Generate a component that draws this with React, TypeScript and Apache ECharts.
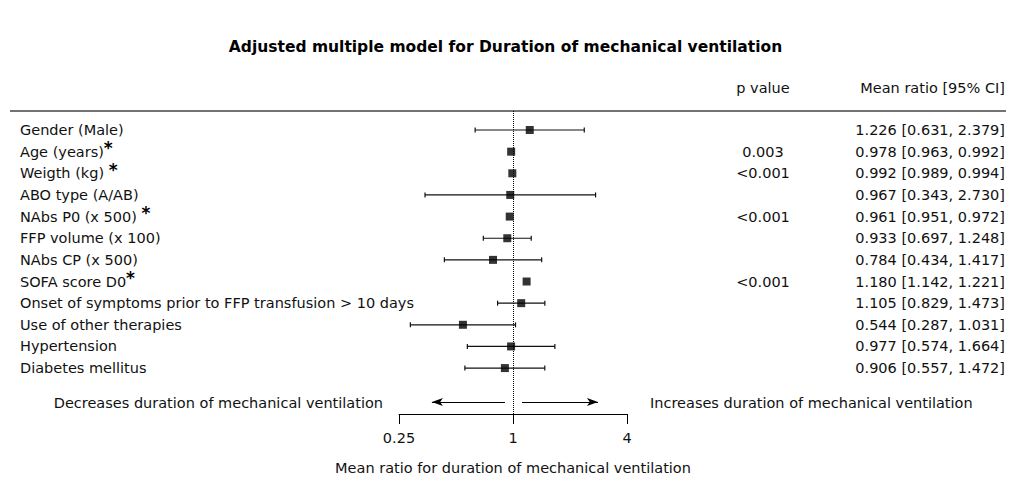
import React, { useEffect, useRef } from "react";
import * as echarts from "echarts";

const rowLabels = [
  "Gender (Male)",
  "Age (years)",
  "Weigth (kg) ",
  "ABO type (A/AB)",
  "NAbs P0 (x 500) ",
  "FFP volume (x 100)",
  "NAbs CP (x 500)",
  "SOFA score D0",
  "Onset of symptoms prior to FFP transfusion > 10 days",
  "Use of other therapies",
  "Hypertension",
  "Diabetes mellitus",
];
const starred = [false, true, true, false, true, false, false, true, false, false, false, false];
const estimate = [1.226, 0.978, 0.992, 0.967, 0.961, 0.933, 0.784, 1.18, 1.105, 0.544, 0.977, 0.906];
const lower = [0.631, 0.963, 0.989, 0.343, 0.951, 0.697, 0.434, 1.142, 0.829, 0.287, 0.574, 0.557];
const upper = [2.379, 0.992, 0.994, 2.73, 0.972, 1.248, 1.417, 1.221, 1.473, 1.031, 1.664, 1.472];
const pValues = ["", "0.003", "<0.001", "", "<0.001", "", "", "<0.001", "", "", "", ""];
const xTicks = [0.25, 1, 4];

const TITLE = "Adjusted multiple model for Duration of mechanical ventilation";
const X_NAME = "Mean ratio for duration of mechanical ventilation";
const LEFT_ARROW_TEXT = "Decreases duration of mechanical ventilation";
const RIGHT_ARROW_TEXT = "Increases duration of mechanical ventilation";
// arrow annotation positions in data units (x ratio, y fraction of lower grid)
const leftArrow = [[0.907, 0.04], [0.373, 0.04]];
const rightArrow = [[1.116, 0.04], [2.81, 0.04]];

const FONT = "'DejaVu Sans', Verdana, sans-serif";
const FS = 14.5;
const TXT = "#111";

export default function App() {
  const ref = useRef<HTMLDivElement>(null);
  useEffect(() => {
    document.body.style.margin = "0";
    const chart = echarts.init(ref.current!, null, { renderer: "svg" });
    const gridLeft = 399;
    const gridRight = 1011 - 627;
    const idx = rowLabels.map((_, i) => i);
    const ciText = estimate.map(
      (e, i) => `${e.toFixed(3)} [${lower[i].toFixed(3)}, ${upper[i].toFixed(3)}]`
    );
    const boxSize = 8;

    const option: any = {
      animation: false,
      title: {
        text: TITLE,
        left: "center",
        top: 34,
        textStyle: { fontFamily: FONT, fontSize: 15.5, fontWeight: "bold", color: "#000" },
      },
      grid: [
        { left: gridLeft, right: gridRight, top: 119.2, height: 259.7 },
        { left: gridLeft, right: gridRight, top: 111, bottom: 482 - 414 },
      ],
      xAxis: [
        { type: "log", logBase: 2, min: 0.25, max: 4, gridIndex: 0, show: false },
        {
          type: "log",
          logBase: 2,
          min: 0.25,
          max: 4,
          interval: 2,
          gridIndex: 1,
          position: "bottom",
          axisLine: { show: true, lineStyle: { color: "#000", width: 1 } },
          axisTick: { show: true, inside: false, length: 10, lineStyle: { color: "#000" } },
          splitLine: { show: false },
          axisLabel: {
            margin: 16,
            fontSize: FS,
            fontFamily: FONT,
            color: TXT,
            formatter: (v: number) => (xTicks.some((t) => Math.abs(t - v) < 1e-6) ? String(v) : ""),
          },
          name: X_NAME,
          nameLocation: "middle",
          nameGap: 46,
          nameTextStyle: { fontSize: FS, fontFamily: FONT, color: TXT },
        },
      ],
      yAxis: [
        {
          type: "category",
          gridIndex: 0,
          inverse: true,
          data: rowLabels,
          position: "left",
          axisLine: { show: false },
          axisTick: { show: false },
          axisLabel: {
            interval: 0,
            align: "left",
            margin: 399 - 20,
            fontSize: FS,
            fontFamily: FONT,
            color: TXT,
            formatter: (v: string, i: number) => (starred[i] ? `${v}{s|*}` : v),
            rich: {
              s: {
                fontSize: 17,
                fontWeight: "bold",
                fontFamily: FONT,
                color: "#000",
                verticalAlign: "top",
                padding: [0, 0, 7, 0],
              },
            },
          },
        },
        {
          type: "category",
          gridIndex: 0,
          inverse: true,
          data: rowLabels,
          position: "right",
          axisLine: { show: false },
          axisTick: { show: false },
          axisLabel: {
            interval: 0,
            align: "right",
            margin: 1005 - 627,
            fontSize: FS,
            fontFamily: FONT,
            color: TXT,
            formatter: (_v: string, i: number) => ciText[i],
          },
        },
        {
          type: "category",
          gridIndex: 0,
          inverse: true,
          data: rowLabels,
          position: "right",
          axisLine: { show: false },
          axisTick: { show: false },
          axisLabel: {
            interval: 0,
            align: "center",
            margin: 763 - 627,
            fontSize: FS,
            fontFamily: FONT,
            color: TXT,
            formatter: (_v: string, i: number) => pValues[i],
          },
        },
        { type: "value", gridIndex: 1, min: 0, max: 1, show: false },
      ],
      graphic: [
        {
          type: "line",
          shape: { x1: 10, y1: 111, x2: 1006, y2: 111 },
          style: { stroke: "#444", lineWidth: 1.5 },
          silent: true,
        },
        {
          type: "text",
          x: 763,
          y: 88,
          style: { text: "p value", fontSize: FS, fontFamily: FONT, fill: TXT, textAlign: "center", textVerticalAlign: "middle" },
        },
        {
          type: "text",
          x: 1005,
          y: 88,
          style: { text: "Mean ratio [95% CI]", fontSize: FS, fontFamily: FONT, fill: TXT, textAlign: "right", textVerticalAlign: "middle" },
        },
        {
          type: "text",
          x: 383,
          y: 403,
          style: { text: LEFT_ARROW_TEXT, fontSize: FS, fontFamily: FONT, fill: TXT, textAlign: "right", textVerticalAlign: "middle" },
        },
        {
          type: "text",
          x: 650,
          y: 403,
          style: { text: RIGHT_ARROW_TEXT, fontSize: FS, fontFamily: FONT, fill: TXT, textAlign: "left", textVerticalAlign: "middle" },
        },
      ],
      series: [
        {
          type: "custom",
          xAxisIndex: 0,
          yAxisIndex: 0,
          data: idx.map((i) => [lower[i], upper[i], i]),
          encode: { x: [0, 1], y: 2 },
          renderItem: (params: any, api: any) => {
            const p1 = api.coord([api.value(0), api.value(2)]);
            const p2 = api.coord([api.value(1), api.value(2)]);
            if (p2[0] - p1[0] <= boxSize) return { type: "group", children: [] };
            const y = p1[1];
            const h = 2.5;
            const st = { stroke: "#111", lineWidth: 1.2 };
            return {
              type: "group",
              children: [
                { type: "line", shape: { x1: p1[0], y1: y, x2: p2[0], y2: y }, style: st },
                { type: "line", shape: { x1: p1[0], y1: y - h, x2: p1[0], y2: y + h }, style: st },
                { type: "line", shape: { x1: p2[0], y1: y - h, x2: p2[0], y2: y + h }, style: st },
              ],
            };
          },
          z: 2,
        },
        {
          type: "scatter",
          xAxisIndex: 0,
          yAxisIndex: 0,
          symbol: "rect",
          symbolSize: boxSize,
          itemStyle: { color: "#000" },
          data: idx.map((i) => [estimate[i], i]),
          z: 3,
        },
        {
          type: "line",
          xAxisIndex: 1,
          yAxisIndex: 3,
          data: [],
          markLine: {
            silent: true,
            symbol: ["none", "none"],
            label: { show: false },
            lineStyle: { type: "dotted", color: "#000", width: 1 },
            data: [{ xAxis: 1 }],
          },
        },
        {
          type: "line",
          xAxisIndex: 1,
          yAxisIndex: 3,
          data: [],
          markLine: {
            silent: true,
            symbol: ["none", "arrow"],
            symbolSize: [6, 11],
            label: { show: false },
            lineStyle: { type: "solid", color: "#000", width: 1 },
            itemStyle: { color: "#000" },
            data: [
              [{ coord: leftArrow[0] }, { coord: leftArrow[1] }],
              [{ coord: rightArrow[0] }, { coord: rightArrow[1] }],
            ],
          },
        },
      ],
    };
    chart.setOption(option);
    return () => chart.dispose();
  }, []);
  return <div ref={ref} style={{ width: 1011, height: 482 }} />;
}
